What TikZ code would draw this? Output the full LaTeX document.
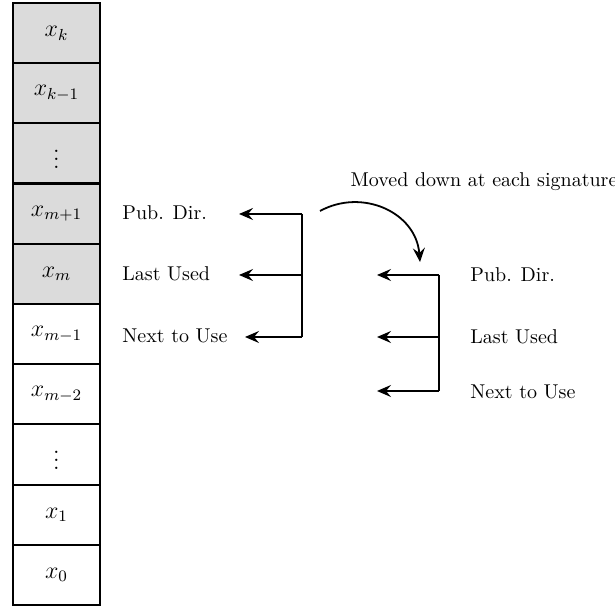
\documentclass[tikz,border=0pt]{standalone}
\usetikzlibrary{arrows.meta}
\begin{document}
\begin{tikzpicture}[x=0.5pt,y=-0.5pt,
  cell/.style={draw,line width=1.1pt,minimum width=43.5pt,minimum height=30.1pt,inner sep=0pt,font=\large},
  shaded/.style={cell,fill=gray!28},
  lbl/.style={anchor=west,inner sep=0pt,font=\normalsize},
  ptr/.style={line width=0.9pt,-{Stealth[length=7pt,width=6pt,inset=2.5pt]}},
  brk/.style={line width=0.9pt}]
\useasboundingbox (0,0) rectangle (615,608);
% memory column, top to bottom
\node[shaded] (c9) at (56.5,33.1)  {$x_k$};
\node[shaded] (c8) at (56.5,93.3)  {$x_{k-1}$};
\node[shaded] (c7) at (56.5,153.5) {$\vdots$};
\node[shaded] (c6) at (56.5,213.7) {$x_{m+1}$};
\node[shaded] (c5) at (56.5,273.9) {$x_m$};
\node[cell]   (c4) at (56.5,334.1) {$x_{m-1}$};
\node[cell]   (c3) at (56.5,394.3) {$x_{m-2}$};
\node[cell]   (c2) at (56.5,454.5) {$\vdots$};
\node[cell]   (c1) at (56.5,514.7) {$x_1$};
\node[cell]   (c0) at (56.5,574.9) {$x_0$};

% pointers before the signature
\node[lbl] (pa) at (122,213) {Pub. Dir.};
\node[lbl] (la) at (122,274) {Last Used};
\node[lbl] (na) at (122,336) {Next to Use};
\coordinate (pa1) at (302,214);
\coordinate (la1) at (302,275);
\coordinate (na1) at (302,337);
\coordinate (pa0) at (239,214);
\coordinate (la0) at (239,275);
\coordinate (na0) at (245,337);
\draw[brk] (pa1) -- (na1);
\draw[ptr] (pa1) -- (pa0);
\draw[ptr] (la1) -- (la0);
\draw[ptr] (na1) -- (na0);

% pointers after the signature
\node[lbl] (pb) at (470,275) {Pub. Dir.};
\node[lbl] (lb) at (470,337) {Last Used};
\node[lbl] (nb) at (470,392) {Next to Use};
\coordinate (pb1) at (439,275);
\coordinate (lb1) at (439,337);
\coordinate (nb1) at (439,391);
\coordinate (pb0) at (377,275);
\coordinate (lb0) at (377,337);
\coordinate (nb0) at (377,391);
\draw[brk] (pb1) -- (nb1);
\draw[ptr] (pb1) -- (pb0);
\draw[ptr] (lb1) -- (lb0);
\draw[ptr] (nb1) -- (nb0);

% movement note
\node[inner sep=0pt] (mv) at (484,182) {Moved down at each signature};
\coordinate (m0) at (320,211);
\coordinate (m1) at (420,262);
\draw[ptr] (m0) .. controls (362,188) and (416,212) .. (m1);
\end{tikzpicture}
\end{document}
